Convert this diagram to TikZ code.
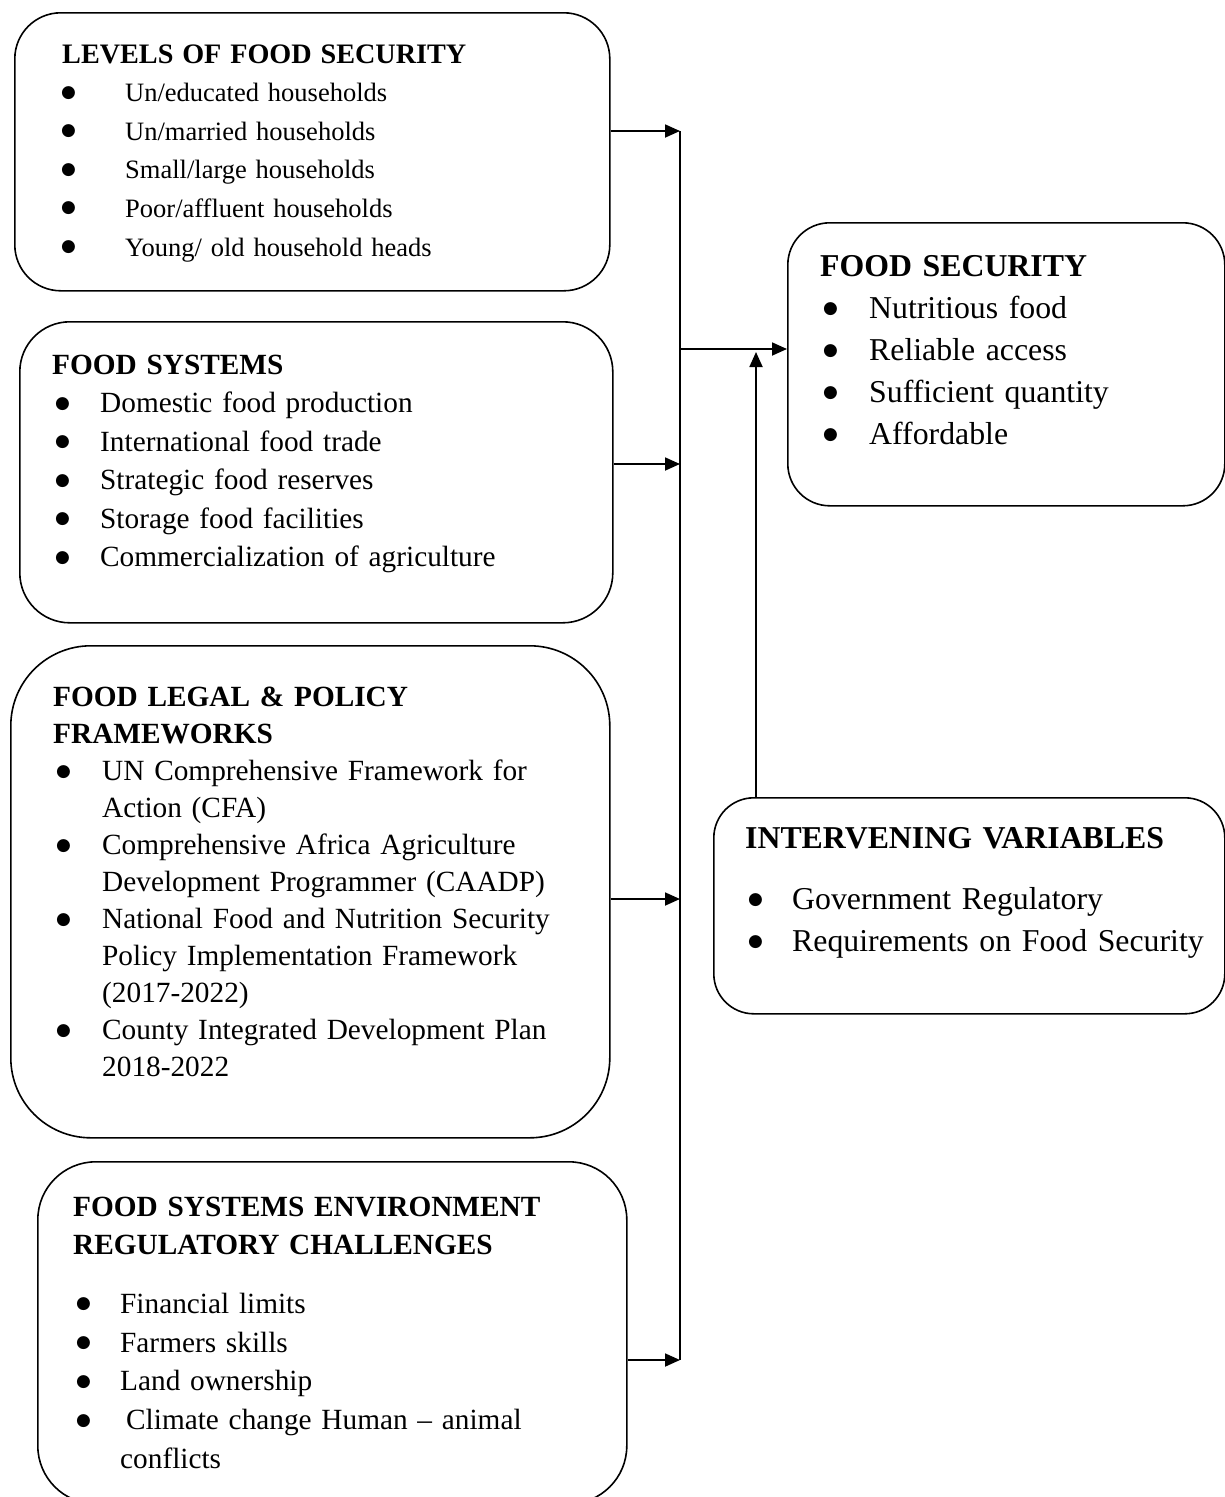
\documentclass[tikz,border=0pt]{standalone}
\usepackage{fontspec}
\setmainfont{Liberation Serif}
\newfontfamily\dejavu{DejaVu Sans}
\usetikzlibrary{arrows.meta}

\newlength{\bindent}
\newlength{\boff}
\setlength{\boff}{3pt}
\newcommand{\bdot}{\raisebox{4.5pt}{\dejavu\fontsize{17}{17}\selectfont ●}}
\newcommand{\bitem}[1]{\par\hangindent=\bindent\hangafter=1\noindent\makebox[\bindent][l]{\hspace{\boff}\bdot}#1}

\tikzset{
  box/.style={draw, line width=1.6pt, anchor=north west, inner sep=0pt},
  txt/.style 2 args={anchor=base west, inner sep=0pt, text width=560pt, align=left,
    font=#1, execute at begin node={\setlength{\bindent}{#2}}},
  arr/.style={line width=1.8pt, -{Triangle[length=15pt,width=13pt]}},
}

\begin{document}
\begin{tikzpicture}[x=1pt,y=-1pt]
  \useasboundingbox (0,0) rectangle (1224,1497);

  % boxes
  \node[box, rounded corners=46pt, minimum width=595pt, minimum height=278pt] (levels) at (14,12) {};
  \node[box, rounded corners=50pt, minimum width=593pt, minimum height=301pt] (systems) at (19,321) {};
  \node[box, rounded corners=80pt, minimum width=599pt, minimum height=492pt] (legal) at (10,645) {};
  \node[box, rounded corners=58pt, minimum width=589pt, minimum height=342pt] (env) at (37,1161) {};
  \node[box, rounded corners=42pt, minimum width=437pt, minimum height=283pt] (security) at (787,222) {};
  \node[box, rounded corners=40pt, minimum width=511pt, minimum height=216pt] (interv) at (713,797) {};

  % texts
  \node[txt={\fontsize{26.5}{38.6}\selectfont}{63pt}, execute at begin node={\setlength{\boff}{-1pt}}] (levelsT) at (62,63) {%
    {\fontsize{28.2}{38.6}\selectfont\textbf{LEVELS OF FOOD SECURITY}}
    \bitem{Un/educated households}
    \bitem{Un/married households}
    \bitem{Small/large households}
    \bitem{Poor/affluent households}
    \bitem{Young/ old household heads}\par};
  \node[txt={\fontsize{29.3}{38.5}\selectfont}{48pt}] (systemsT) at (52,374) {%
    \textbf{FOOD SYSTEMS}
    \bitem{Domestic food production}
    \bitem{International food trade}
    \bitem{Strategic food reserves}
    \bitem{Storage food facilities}
    \bitem{Commercialization of agriculture}\par};
  \node[txt={\fontsize{29.3}{37}\selectfont}{49pt}] (legalT) at (53,706.5) {%
    \textbf{FOOD LEGAL \& POLICY\\FRAMEWORKS}
    \bitem{UN Comprehensive Framework for\newline Action (CFA)}
    \bitem{Comprehensive Africa Agriculture\newline Development Programmer (CAADP)}
    \bitem{National Food and Nutrition Security\newline Policy Implementation Framework\newline (2017-2022)}
    \bitem{County Integrated Development Plan\newline 2018-2022}\par};
  \node[txt={\fontsize{29.3}{38.7}\selectfont}{47pt}] (envT) at (73,1216) {%
    \textbf{FOOD SYSTEMS ENVIRONMENT\\REGULATORY CHALLENGES}\par\vspace{20pt}
    \bitem{Financial limits}
    \bitem{Farmers skills}
    \bitem{Land ownership}
    \bitem{\hspace{6pt}Climate change Human -- animal\newline conflicts}\par};
  \node[txt={\fontsize{31.8}{42}\selectfont}{49pt}] (securityT) at (820,276) {%
    \textbf{FOOD SECURITY}
    \bitem{Nutritious food}
    \bitem{Reliable access}
    \bitem{Sufficient quantity}
    \bitem{Affordable}\par};
  \node[txt={\fontsize{31.8}{42}\selectfont}{47pt}] (intervT) at (745,848) {%
    \textbf{INTERVENING VARIABLES}\par\vspace{19pt}
    \bitem{Government Regulatory}
    \bitem{Requirements on Food Security}\par};

  % connectors
  \coordinate (t1) at (680,131);
  \coordinate (t2) at (680,464);
  \coordinate (t3) at (680,899);
  \coordinate (t4) at (680,1360);
  \coordinate (tm) at (680,349);
  \coordinate (up) at (756,352);
  \draw[line width=1.8pt] (t1) -- (t4);
  \draw[arr] (levels.east |- t1) -- (t1);
  \draw[arr] (systems.east |- t2) -- (t2);
  \draw[arr] (legal.east |- t3) -- (t3);
  \draw[arr] (env.east |- t4) -- (t4);
  \draw[arr] (tm) -- (security.west |- tm);
  \draw[arr] (interv.north -| up) -- (up);
\end{tikzpicture}
\end{document}
